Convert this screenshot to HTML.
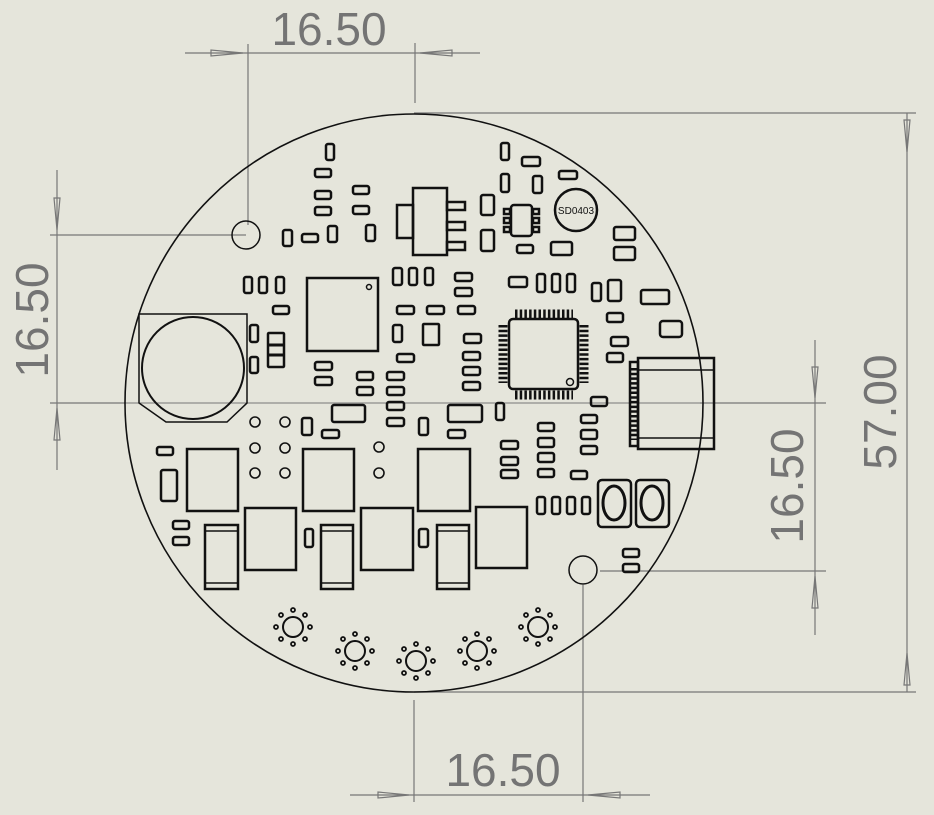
<!DOCTYPE html>
<html><head><meta charset="utf-8"><style>
html,body{margin:0;padding:0;background:#e5e5db;}
svg{display:block}
.d{stroke:#777;stroke-width:1.2;fill:none}
.t{font-family:"Liberation Sans",sans-serif;font-size:46px;fill:#747474}
.c{fill:none;stroke:#111;stroke-width:2.5}
.p rect{fill:none;stroke:#111;stroke-width:2.5}
</style></head><body>
<svg width="934" height="815" viewBox="0 0 934 815" xmlns="http://www.w3.org/2000/svg">
<rect width="934" height="815" fill="#e5e5db"/>
<!-- dimensions -->
<g class="d">
<line x1="185" y1="53" x2="480" y2="53"/>
<line x1="248" y1="44" x2="248" y2="225"/>
<line x1="415" y1="43" x2="415" y2="103"/>
<polygon points="211,50 211,56 243,53"/><polygon points="452,50 452,56 420,53"/>
<line x1="57" y1="170" x2="57" y2="470"/>
<line x1="50" y1="235" x2="232" y2="235"/>
<line x1="50" y1="403" x2="126" y2="403"/>
<polygon points="54,198 60,198 57,230"/><polygon points="54,440 60,440 57,408"/>
<line x1="907" y1="113" x2="907" y2="692"/>
<line x1="414" y1="113" x2="916" y2="113"/>
<line x1="414" y1="692" x2="916" y2="692"/>
<polygon points="904,120 910,120 907,152"/><polygon points="904,685 910,685 907,653"/>
<line x1="815" y1="340" x2="815" y2="635"/>
<line x1="700" y1="403" x2="826" y2="403"/>
<line x1="600" y1="571" x2="826" y2="571"/>
<polygon points="812,367 818,367 815,398"/><polygon points="812,608 818,608 815,576"/>
<line x1="350" y1="795" x2="650" y2="795"/>
<line x1="414" y1="700" x2="414" y2="802"/>
<line x1="583" y1="585" x2="583" y2="802"/>
<polygon points="378,792 378,798 409,795"/><polygon points="620,792 620,798 588,795"/>
<line x1="126" y1="403" x2="700" y2="403" stroke-width="1"/>
<line x1="232" y1="235" x2="246" y2="235"/>
</g>
<text class="t" x="329" y="45" text-anchor="middle">16.50</text>
<text class="t" x="503" y="786" text-anchor="middle">16.50</text>
<text class="t" text-anchor="middle" transform="translate(48,320) rotate(-90)">16.50</text>
<text class="t" text-anchor="middle" transform="translate(803,486) rotate(-90)">16.50</text>
<text class="t" text-anchor="middle" transform="translate(896,412) rotate(-90)">57.00</text>
<!-- board -->
<circle cx="414" cy="403" r="289" fill="none" stroke="#111" stroke-width="1.6"/>
<circle cx="246" cy="235" r="14" fill="none" stroke="#111" stroke-width="1.5"/>
<circle cx="583" cy="570" r="14" fill="none" stroke="#111" stroke-width="1.5"/>
<g class="p">
<!-- top region -->
<rect x="326" y="144" width="8" height="16" rx="2"/>
<rect x="315" y="169" width="16" height="8" rx="2"/>
<rect x="315" y="191" width="16" height="8" rx="2"/>
<rect x="315" y="207" width="16" height="8" rx="2"/>
<rect x="302" y="234" width="16" height="8" rx="2"/>
<rect x="283" y="230" width="9" height="16" rx="2"/>
<rect x="328" y="226" width="9" height="16" rx="2"/>
<rect x="353" y="186" width="16" height="8" rx="2"/>
<rect x="353" y="206" width="16" height="8" rx="2"/>
<rect x="366" y="225" width="9" height="16" rx="2"/>
<rect x="413" y="188" width="34" height="67"/>
<rect x="397" y="205" width="16" height="33"/>
<rect x="447" y="202" width="18" height="8"/>
<rect x="447" y="222" width="18" height="8"/>
<rect x="447" y="242" width="18" height="8"/>
<rect x="501" y="143" width="8" height="17" rx="2"/>
<rect x="522" y="157" width="18" height="9" rx="2"/>
<rect x="559" y="171" width="18" height="8" rx="2"/>
<rect x="501" y="174" width="8" height="18" rx="2"/>
<rect x="533" y="176" width="9" height="17" rx="2"/>
<rect x="481" y="195" width="13" height="20" rx="2"/>
<rect x="481" y="230" width="13" height="21" rx="2"/>
<rect x="511" y="205" width="21" height="31" rx="3"/>
<rect x="504" y="209" width="6" height="5"/><rect x="504" y="218" width="6" height="5"/><rect x="504" y="227" width="6" height="5"/>
<rect x="533" y="209" width="6" height="5"/><rect x="533" y="218" width="6" height="5"/><rect x="533" y="227" width="6" height="5"/>
<rect x="517" y="245" width="16" height="8" rx="2"/>
<rect x="551" y="242" width="21" height="13" rx="2"/>
<rect x="614" y="227" width="21" height="13" rx="2"/>
<rect x="614" y="247" width="21" height="13" rx="2"/>
<rect x="509" y="277" width="18" height="10" rx="2"/>
<rect x="537" y="274" width="8" height="18" rx="2"/>
<rect x="552" y="274" width="8" height="18" rx="2"/>
<rect x="567" y="274" width="8" height="18" rx="2"/>
<rect x="592" y="283" width="9" height="18" rx="2"/>
<rect x="608" y="280" width="13" height="21" rx="2"/>
<rect x="641" y="290" width="28" height="14" rx="2"/>
<rect x="660" y="321" width="22" height="16" rx="3"/>
<rect x="607" y="313" width="16" height="9" rx="2"/>
<rect x="611" y="337" width="17" height="9" rx="2"/>
<rect x="607" y="353" width="16" height="9" rx="2"/>
<!-- QFP -->
<rect x="509" y="319" width="69" height="70" rx="4" stroke-width="3"/>
<!-- USB -->
<rect x="638" y="358" width="76" height="91"/>
<rect x="630" y="362" width="8" height="84" stroke-width="1.5"/>
<!-- right cluster -->
<rect x="591" y="397" width="16" height="9" rx="2"/>
<rect x="496" y="403" width="8" height="17" rx="2"/>
<rect x="581" y="415" width="16" height="8" rx="2"/>
<rect x="581" y="430" width="16" height="9" rx="2"/>
<rect x="581" y="446" width="16" height="8" rx="2"/>
<rect x="538" y="423" width="16" height="8" rx="2"/>
<rect x="538" y="438" width="16" height="9" rx="2"/>
<rect x="538" y="453" width="16" height="9" rx="2"/>
<rect x="538" y="469" width="16" height="8" rx="2"/>
<rect x="501" y="441" width="17" height="8" rx="2"/>
<rect x="501" y="457" width="17" height="8" rx="2"/>
<rect x="501" y="470" width="17" height="8" rx="2"/>
<rect x="571" y="471" width="16" height="8" rx="2"/>
<rect x="537" y="497" width="8" height="17" rx="2"/>
<rect x="552" y="497" width="8" height="17" rx="2"/>
<rect x="567" y="497" width="8" height="17" rx="2"/>
<rect x="582" y="497" width="8" height="17" rx="2"/>
<rect x="598" y="480" width="33" height="47" rx="4"/>
<rect x="636" y="480" width="33" height="47" rx="4"/>
<rect x="623" y="549" width="16" height="8" rx="2"/>
<rect x="623" y="564" width="16" height="8" rx="2"/>
<!-- left region -->
<rect x="244" y="277" width="8" height="16" rx="2"/>
<rect x="259" y="277" width="8" height="16" rx="2"/>
<rect x="276" y="277" width="8" height="16" rx="2"/>
<rect x="273" y="306" width="16" height="8" rx="2"/>
<rect x="307" y="278" width="71" height="73"/>
<rect x="250" y="325" width="8" height="17" rx="2"/>
<rect x="250" y="357" width="8" height="16" rx="2"/>
<rect x="268" y="333" width="16" height="34" rx="1"/>
<rect x="315" y="362" width="17" height="8" rx="2"/>
<rect x="315" y="377" width="17" height="8" rx="2"/>
<rect x="357" y="372" width="16" height="8" rx="2"/>
<rect x="357" y="387" width="16" height="8" rx="2"/>
<rect x="387" y="372" width="17" height="8" rx="2"/>
<rect x="387" y="387" width="17" height="8" rx="2"/>
<rect x="387" y="402" width="17" height="8" rx="2"/>
<rect x="387" y="418" width="17" height="8" rx="2"/>
<rect x="393" y="268" width="9" height="17" rx="2"/>
<rect x="409" y="268" width="8" height="17" rx="2"/>
<rect x="425" y="268" width="8" height="17" rx="2"/>
<rect x="455" y="273" width="17" height="8" rx="2"/>
<rect x="455" y="288" width="17" height="8" rx="2"/>
<rect x="397" y="306" width="17" height="8" rx="2"/>
<rect x="427" y="306" width="17" height="8" rx="2"/>
<rect x="458" y="306" width="17" height="8" rx="2"/>
<rect x="393" y="325" width="9" height="17" rx="2"/>
<rect x="423" y="324" width="16" height="21" rx="1"/>
<rect x="397" y="354" width="17" height="8" rx="2"/>
<rect x="464" y="334" width="17" height="9" rx="2"/>
<rect x="463" y="352" width="17" height="8" rx="2"/>
<rect x="463" y="367" width="17" height="8" rx="2"/>
<rect x="463" y="382" width="17" height="8" rx="2"/>
<rect x="332" y="405" width="33" height="17" rx="2"/>
<rect x="448" y="405" width="34" height="17" rx="2"/>
<rect x="302" y="418" width="10" height="17" rx="2"/>
<rect x="322" y="430" width="17" height="8" rx="2"/>
<rect x="419" y="418" width="9" height="17" rx="2"/>
<rect x="448" y="430" width="17" height="8" rx="2"/>
<rect x="157" y="447" width="16" height="8" rx="2"/>
<rect x="161" y="470" width="16" height="31" rx="2"/>
<rect x="173" y="521" width="16" height="8" rx="2"/>
<rect x="173" y="537" width="16" height="8" rx="2"/>
<rect x="305" y="529" width="8" height="18" rx="2"/>
<rect x="419" y="529" width="9" height="18" rx="2"/>
<!-- inductors -->
<rect x="187" y="449" width="51" height="62" stroke-width="3.5"/>
<rect x="303" y="449" width="51" height="62" stroke-width="3.5"/>
<rect x="418" y="449" width="52" height="62" stroke-width="3.5"/>
<rect x="245" y="508" width="51" height="62" stroke-width="3.5"/>
<rect x="361" y="508" width="52" height="62" stroke-width="3.5"/>
<rect x="476" y="507" width="51" height="61" stroke-width="3.5"/>
<rect x="205" y="525" width="33" height="64"/>
<rect x="321" y="525" width="32" height="64"/>
<rect x="437" y="525" width="32" height="64"/>
</g>
<g stroke="#111" stroke-width="1.5" fill="none">
<!-- battery holder -->
<polygon points="139,314 247,314 247,403 227,422 166,422 139,403"/>
<circle cx="193" cy="368" r="51" stroke-width="2"/>
<!-- buzzer -->
<circle cx="576" cy="210" r="21" stroke-width="2.5"/>
<!-- switch ovals -->
<ellipse cx="614" cy="503" rx="11" ry="17" stroke-width="3"/>
<ellipse cx="652" cy="503" rx="11" ry="17" stroke-width="3"/>
<!-- USB inner -->
<line x1="638" y1="370" x2="714" y2="370"/><line x1="638" y1="438" x2="714" y2="438"/>
<!-- resistor bands -->
<line x1="268" y1="345" x2="284" y2="345" stroke-width="3"/><line x1="268" y1="355" x2="284" y2="355" stroke-width="3"/>
<line x1="205" y1="531" x2="238" y2="531"/><line x1="205" y1="583" x2="238" y2="583"/>
<line x1="321" y1="531" x2="353" y2="531"/><line x1="321" y1="583" x2="353" y2="583"/>
<line x1="437" y1="531" x2="469" y2="531"/><line x1="437" y1="583" x2="469" y2="583"/>
<circle cx="369" cy="287" r="2.5"/>
<circle cx="570" cy="382" r="3.5"/>
</g>
<text x="576" y="214" font-family="Liberation Sans,sans-serif" font-size="10" text-anchor="middle" fill="#111">SD0403</text>
<!-- QFP pins -->
<g stroke="#111" stroke-width="9" stroke-dasharray="2.5 2.2" fill="none">
<line x1="515" y1="314" x2="573" y2="314"/>
<line x1="515" y1="395" x2="573" y2="395"/>
<line x1="503" y1="325" x2="503" y2="383"/>
<line x1="584" y1="325" x2="584" y2="383"/>
</g>
<g stroke="#111" stroke-width="7" stroke-dasharray="2.5 2.2" fill="none">
<line x1="634" y1="368" x2="634" y2="440"/>
</g>
<!-- holes -->
<g fill="none" stroke="#111" stroke-width="1.6">
<circle cx="255" cy="422" r="5"/><circle cx="285" cy="422" r="5"/>
<circle cx="255" cy="448" r="5"/><circle cx="285" cy="448" r="5"/>
<circle cx="255" cy="473" r="5"/><circle cx="285" cy="473" r="5"/>
<circle cx="379" cy="447" r="5"/><circle cx="379" cy="473" r="5"/>
</g>
<!-- LEDs -->
<g fill="none" stroke="#111" stroke-width="2">
<g transform="translate(293,627)"><circle r="10"/><g stroke-width="1.8"><circle cx="0" cy="-17" r="2"/><circle cx="12" cy="-12" r="2"/><circle cx="17" cy="0" r="2"/><circle cx="12" cy="12" r="2"/><circle cx="0" cy="17" r="2"/><circle cx="-12" cy="12" r="2"/><circle cx="-17" cy="0" r="2"/><circle cx="-12" cy="-12" r="2"/></g></g>
<g transform="translate(355,651)"><circle r="10"/><g stroke-width="1.8"><circle cx="0" cy="-17" r="2"/><circle cx="12" cy="-12" r="2"/><circle cx="17" cy="0" r="2"/><circle cx="12" cy="12" r="2"/><circle cx="0" cy="17" r="2"/><circle cx="-12" cy="12" r="2"/><circle cx="-17" cy="0" r="2"/><circle cx="-12" cy="-12" r="2"/></g></g>
<g transform="translate(416,661)"><circle r="10"/><g stroke-width="1.8"><circle cx="0" cy="-17" r="2"/><circle cx="12" cy="-12" r="2"/><circle cx="17" cy="0" r="2"/><circle cx="12" cy="12" r="2"/><circle cx="0" cy="17" r="2"/><circle cx="-12" cy="12" r="2"/><circle cx="-17" cy="0" r="2"/><circle cx="-12" cy="-12" r="2"/></g></g>
<g transform="translate(477,651)"><circle r="10"/><g stroke-width="1.8"><circle cx="0" cy="-17" r="2"/><circle cx="12" cy="-12" r="2"/><circle cx="17" cy="0" r="2"/><circle cx="12" cy="12" r="2"/><circle cx="0" cy="17" r="2"/><circle cx="-12" cy="12" r="2"/><circle cx="-17" cy="0" r="2"/><circle cx="-12" cy="-12" r="2"/></g></g>
<g transform="translate(538,627)"><circle r="10"/><g stroke-width="1.8"><circle cx="0" cy="-17" r="2"/><circle cx="12" cy="-12" r="2"/><circle cx="17" cy="0" r="2"/><circle cx="12" cy="12" r="2"/><circle cx="0" cy="17" r="2"/><circle cx="-12" cy="12" r="2"/><circle cx="-17" cy="0" r="2"/><circle cx="-12" cy="-12" r="2"/></g></g>
</g>
</svg>
</body></html>
